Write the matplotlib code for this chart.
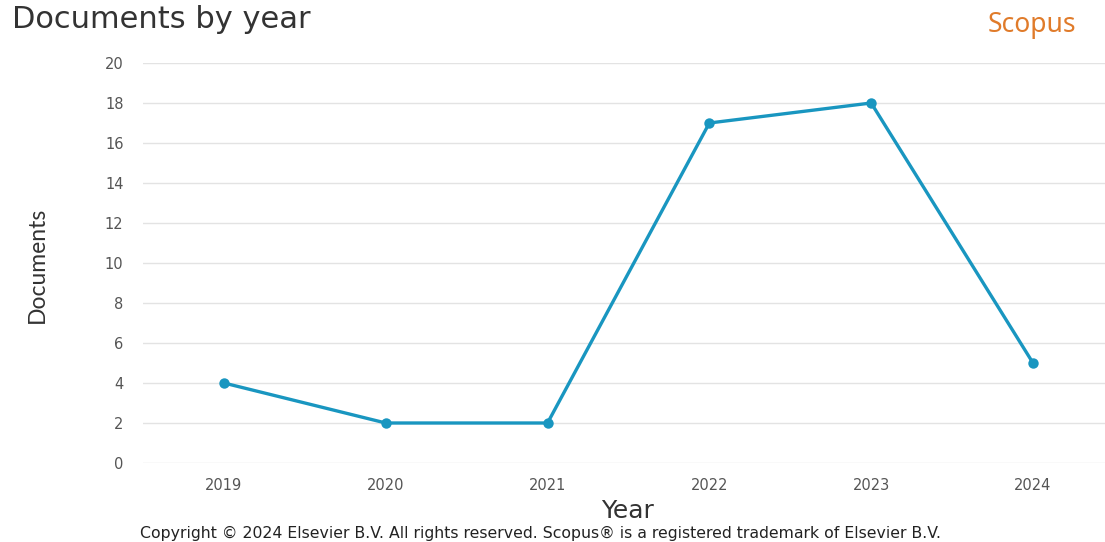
import matplotlib
matplotlib.use("Agg")
import matplotlib.pyplot as plt

plt.rcParams["font.family"] = "DejaVu Sans"

years = [2019, 2020, 2021, 2022, 2023, 2024]
documents = [4, 2, 2, 17, 18, 5]
y_ticks = list(range(0, 21, 2))

line_color = "#1996c0"
grid_color = "#e3e3e3"
tick_color = "#555555"

fig = plt.figure(figsize=(11.05, 5.42), dpi=100)
ax = fig.add_axes([143 / 1105, 1 - 463 / 542, 1 - 143 / 1105, 400 / 542])

ax.plot(years, documents, color=line_color, lw=2.4, marker="o", ms=7.5,
        markeredgewidth=0, solid_capstyle="round", zorder=3)

ax.set_xlim(2018.5, 2024.445)
ax.set_ylim(0, 20)
ax.set_xticks(years)
ax.set_xticklabels([str(y) for y in years])
ax.set_yticks(y_ticks)
ax.grid(axis="y", color=grid_color, lw=1.0)
ax.set_axisbelow(True)
for s in ax.spines.values():
    s.set_visible(False)
ax.tick_params(axis="both", length=0, colors=tick_color, labelsize=10.5)
ax.tick_params(axis="y", pad=14)
ax.tick_params(axis="x", pad=11)

fig.text(628 / 1105, 1 - 511 / 542, "Year", ha="center", va="center",
         fontsize=18, color="#333333")
fig.text(37 / 1105, 1 - 265 / 542, "Documents", ha="center", va="center",
         rotation=90, fontsize=16.5, color="#333333", family="Lato")
fig.text(12 / 1105, 1 - 20 / 542, "Documents by year", ha="left", va="center",
         fontsize=22, color="#333333")
fig.text(1076 / 1105, 1 - 25 / 542, "Scopus", ha="right", va="center",
         fontsize=19, color="#e07b2a", family="Noto Sans")
fig.text(541 / 1105, 1 - 533 / 542,
         "Copyright \u00a9 2024 Elsevier B.V. All rights reserved. Scopus\u00ae is a registered trademark of Elsevier B.V.",
         ha="center", va="center", fontsize=11.3, color="#222222")

fig.savefig("out.png", dpi=100, facecolor="white")
